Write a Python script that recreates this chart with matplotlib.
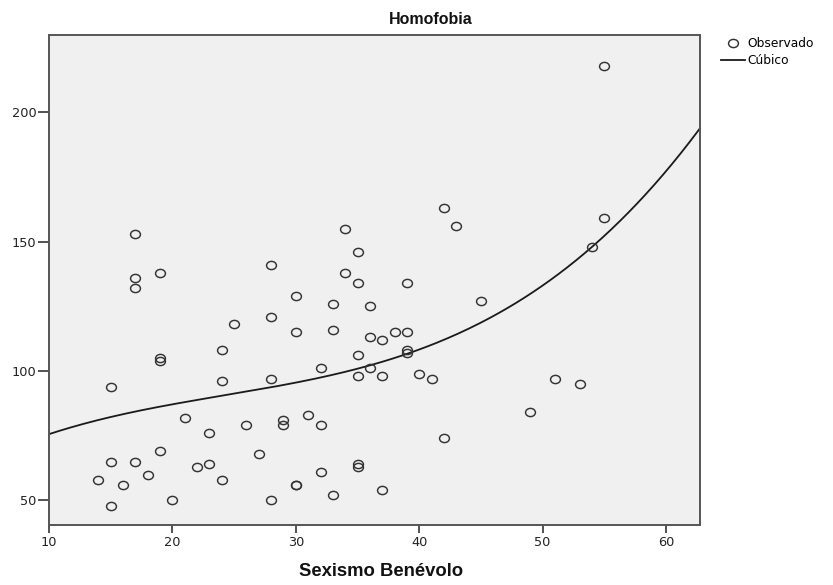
import numpy as np
import matplotlib
matplotlib.use("Agg")
import matplotlib.pyplot as plt
from matplotlib.lines import Line2D
from matplotlib.path import Path
from matplotlib.transforms import Affine2D

# Observed data: Sexismo Benévolo (x) vs Homofobia (y)
sexismo = [55, 42, 43, 55, 54, 34, 35, 17, 17, 17, 19, 28, 34, 35, 39,
           30, 45, 28, 25, 33, 36, 33, 30, 38, 39, 36, 37, 19, 19, 24,
           39, 39, 35, 15, 24, 28, 32, 36, 35, 37, 40, 41, 51, 53, 49,
           21, 31, 29, 29, 26, 32, 23, 19, 27, 42, 17, 15, 14, 16, 18,
           22, 23, 24, 20, 15, 28, 30, 30, 32, 33, 35, 35, 37]
homofobia = [218, 163, 156, 159, 148, 155, 146, 153, 136, 132, 138, 141, 138, 134, 134,
             129, 127, 121, 118, 126, 125, 116, 115, 115, 115, 113, 112, 105, 104, 108,
             108, 107, 106, 94, 96, 97, 101, 101, 98, 98, 99, 97, 97, 95, 84,
             82, 83, 81, 79, 79, 79, 76, 69, 68, 74, 65, 65, 58, 56, 60,
             63, 64, 58, 50, 48, 50, 56, 56, 61, 52, 64, 63, 54]

x_ticks = [10, 20, 30, 40, 50, 60]
y_ticks = [50, 100, 150, 200]
x_range = (10, 62.75)
y_range = (40.5, 229.8)

title = "Homofobia"
xlabel = "Sexismo Benévolo"
legend_labels = ["Observado", "Cúbico"]

plt.rcParams["font.family"] = ["DejaVu Sans"]
bold_font = ["Liberation Sans", "DejaVu Sans"]

# slightly wide elliptical open marker, like SPSS
ellipse = Path.unit_circle().transformed(Affine2D().scale(1.2, 1.0))
mk = dict(linestyle="none", marker=ellipse, markersize=7.1,
          markerfacecolor="none", markeredgecolor="#333333", markeredgewidth=1.05)

fig = plt.figure(figsize=(8.33, 5.85), dpi=100)
ax = fig.add_axes([49 / 833, 1 - 525 / 585, (700 - 49) / 833, (525 - 35) / 585])
ax.set_facecolor("#f0f0f0")

# cubic fit to the data (the original "Cúbico" model)
coefs = np.polyfit(sexismo, homofobia, 3)
xs = np.linspace(x_range[0], x_range[1], 300)
ax.plot(xs, np.polyval(coefs, xs), color="#1a1a1a", lw=1.3, zorder=2)

ax.plot(sexismo, homofobia, zorder=3, **mk)

ax.set_xlim(*x_range)
ax.set_ylim(*y_range)
ax.set_xticks(x_ticks)
ax.set_yticks(y_ticks)
ax.tick_params(direction="out", length=6, width=1.3, color="#444444",
               labelsize=9.3, labelcolor="#222222", pad=2)
ax.tick_params(axis="y", length=8, pad=1)
for s in ax.spines.values():
    s.set_color("#555555")
    s.set_linewidth(1.4)

fig.text(381 / 833, 1 - 571 / 585, xlabel, ha="center", va="center",
         fontsize=13.3, fontweight="bold", color="#111111", family=bold_font)
fig.text(431 / 833, 1 - 19 / 585, title, ha="center", va="center",
         fontsize=11.5, fontweight="bold", color="#111111", family=bold_font)

handles = [Line2D([], [], **mk), Line2D([], [], color="#1a1a1a", lw=1.3)]
fig.legend(handles, legend_labels, loc="upper left",
           bbox_to_anchor=(721 / 833, 1 - 37 / 585), frameon=False, fontsize=8.8,
           handlelength=2.0, handletextpad=0.15, labelspacing=0.35, borderpad=0.0,
           borderaxespad=0.0)

fig.savefig("out.png", dpi=100, facecolor="white")
